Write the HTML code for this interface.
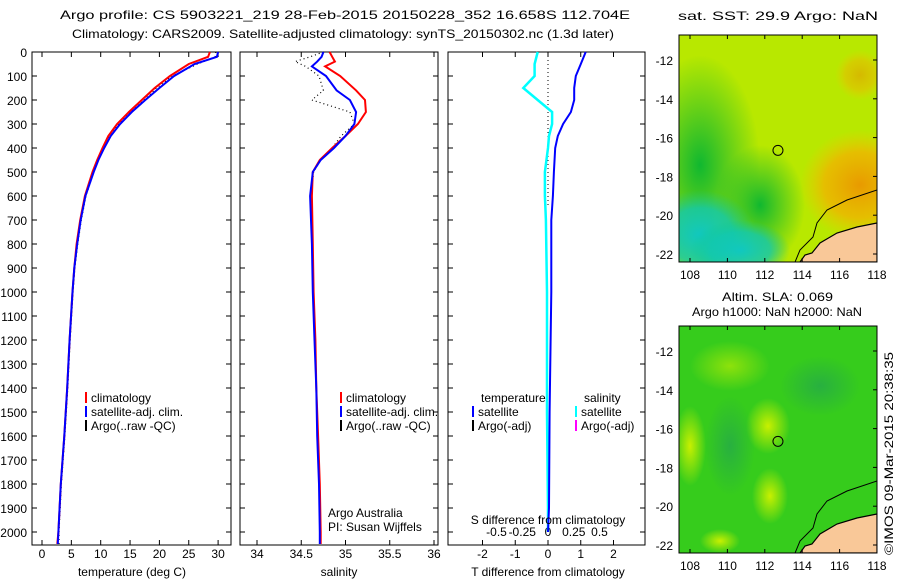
<!DOCTYPE html>
<html><head><meta charset="utf-8">
<style>
body{margin:0;background:#fff;}
svg{display:block;font-family:"Liberation Sans",sans-serif;}
text{font-size:12px;fill:#000;}
</style></head>
<body>
<svg id="fig" width="900" height="580" viewBox="0 0 900 580" xmlns="http://www.w3.org/2000/svg">
<defs>
<radialGradient id="gOr" cx="0.5" cy="0.5" r="0.5"><stop offset="0" stop-color="#e89a00"/><stop offset="0.6" stop-color="#f0b400" stop-opacity="0.8"/><stop offset="1" stop-color="#f0c800" stop-opacity="0"/></radialGradient>
<radialGradient id="gCy" cx="0.5" cy="0.5" r="0.5"><stop offset="0" stop-color="#10c8c0"/><stop offset="0.6" stop-color="#10c8b0" stop-opacity="0.8"/><stop offset="1" stop-color="#10c890" stop-opacity="0"/></radialGradient>
<radialGradient id="gGr" cx="0.5" cy="0.5" r="0.5"><stop offset="0" stop-color="#10b830"/><stop offset="1" stop-color="#10b830" stop-opacity="0"/></radialGradient>
<radialGradient id="gYe" cx="0.5" cy="0.5" r="0.5"><stop offset="0" stop-color="#c8f000"/><stop offset="1" stop-color="#c8f000" stop-opacity="0"/></radialGradient>
<radialGradient id="gDk" cx="0.5" cy="0.5" r="0.5"><stop offset="0" stop-color="#28b040"/><stop offset="1" stop-color="#28b040" stop-opacity="0"/></radialGradient>
<clipPath id="clipTop"><rect x="679" y="35" width="198" height="227"/></clipPath>
<clipPath id="clipBot"><rect x="679" y="326" width="198" height="227"/></clipPath>
</defs>
<text x="60" y="19" font-size="14" textLength="570" lengthAdjust="spacingAndGlyphs">Argo profile: CS 5903221_219 28-Feb-2015 20150228_352 16.658S 112.704E</text>
<text x="72" y="38" font-size="14" textLength="542" lengthAdjust="spacingAndGlyphs">Climatology: CARS2009. Satellite-adjusted climatology: synTS_20150302.nc (1.3d later)</text>
<g id="p1"></g>
<g id="p2"></g>
<g id="p3"></g>
<g id="m1"></g>
<g id="m2"></g>
<text x="678" y="20" textLength="200" lengthAdjust="spacingAndGlyphs">sat. SST: 29.9 Argo: NaN</text>
<text x="722" y="301" textLength="111" lengthAdjust="spacingAndGlyphs">Altim. SLA: 0.069</text>
<text x="692" y="316" textLength="170" lengthAdjust="spacingAndGlyphs">Argo h1000: NaN h2000: NaN</text>
<text transform="translate(893,555) rotate(-90)" textLength="203" lengthAdjust="spacingAndGlyphs">©IMOS 09-Mar-2015 20:38:35</text>
</svg>
<script>
// ---- data ----
const depths = [0,20,50,100,150,200,250,300,350,400,450,500,600,700,800,900,1000,1200,1400,1600,1800,2000,2050];
const tempClim = [28.6,28.3,25,21.8,19.2,17,14.8,12.8,11.3,10.3,9.4,8.6,7.3,6.5,5.9,5.5,5.2,4.7,4.3,3.8,3.2,2.8,2.6];
const tempSat  = [30,29.8,26,22.5,20,17.6,15.3,13.3,11.7,10.6,9.6,8.8,7.4,6.6,6.0,5.5,5.2,4.7,4.3,3.8,3.2,2.8,2.7];
const tempArgo = [29.6,29.5,26.5,22.2,19.5,17.4,15.0,13.0,11.5,10.5,9.6,8.8,7.5,6.7,6.1,5.6,5.3,4.8,4.4,3.9,3.3,2.9,2.9];
const salDepths = [0,20,40,60,100,160,200,250,300,350,400,450,500,600,800,1000,1200,1400,1600,1800,2000,2050];
const salClim = [34.82,34.85,34.88,34.77,34.94,35.12,35.22,35.23,35.14,35.0,34.85,34.71,34.63,34.62,34.63,34.64,34.66,34.67,34.69,34.71,34.72,34.72];
const salSat  = [34.75,34.73,34.68,34.62,34.78,34.9,35.05,35.12,35.1,35.0,34.87,34.72,34.63,34.6,34.62,34.63,34.65,34.67,34.68,34.7,34.71,34.71];
const salArgo = [34.75,34.6,34.43,34.55,34.7,34.75,34.62,35.05,35.1,34.95,34.85,34.72,34.64,34.61,34.63,34.64,34.66,34.67,34.69,34.71,34.72,34.72];
const dDepths = [0,50,100,150,200,250,300,350,400,500,600,700,1000,1500,1900,2000];
const tDiff = [1.15,1.0,0.85,0.8,0.8,0.7,0.46,0.3,0.22,0.18,0.15,0.1,0.1,0.05,0.03,0.0];
const sDiff = [-0.1,-0.13,-0.13,-0.24,-0.1,0.04,0.04,0.01,0.0,-0.03,-0.03,-0.02,-0.01,-0.01,0.0,0.0];
const depthTicks = [0,100,200,300,400,500,600,700,800,900,1000,1100,1200,1300,1400,1500,1600,1700,1800,1900,2000];
const tTicks = [0,5,10,15,20,25,30];
const sTicks = [34,34.5,35,35.5,36];
const sTickLabels = ["34","34.5","35","35.5","36"];
const dTTicks = [-2,-1,0,1,2];
const dSTicks = [-0.5,-0.25,0,0.25,0.5];
const latTicks = [-12,-14,-16,-18,-20,-22];
const lonTicks = [108,110,112,114,116,118];
const argoLon = 112.704, argoLat = -16.658;

// ---- helpers ----
const NS="http://www.w3.org/2000/svg";
function mk(tag, attrs, parent){const e=document.createElementNS(NS,tag);for(const k in attrs)e.setAttribute(k,attrs[k]);parent.appendChild(e);return e;}
const TOP=52, BOT=545;
const yD = d => TOP + d*0.24;
const xT = t => 42 + t*5.87;
const xS = s => 257 + (s-34)*88.5;
const xDT = v => 548 + v*32.75;
const xDS = v => 548 + v*103;

function frame(g,x0,x1){
  const r=mk('rect',{x:x0,y:TOP,width:x1-x0,height:BOT-TOP,fill:'none',stroke:'#000','stroke-width':1},g);
  
  
  depthTicks.forEach(d=>{
    mk('line',{x1:x0,x2:x0+5,y1:yD(d),y2:yD(d),stroke:'#000'},g);
    mk('line',{x1:x1,x2:x1-5,y1:yD(d),y2:yD(d),stroke:'#000'},g);
  });
}
function xticks(g,vals,labels,fx,ly){
  vals.forEach((v,i)=>{
    const x=fx(v);
    mk('line',{x1:x,x2:x,y1:TOP,y2:TOP+5,stroke:'#000'},g);
    mk('line',{x1:x,x2:x,y1:BOT,y2:BOT-5,stroke:'#000'},g);
    const t=mk('text',{x:x,y:ly,'text-anchor':'middle'},g);
    t.textContent=labels[i];
    
    
  });
}
function line(g,xs,ys,fx,color,w,dash,name){
  const pts=xs.map((v,i)=>fx(v).toFixed(1)+','+yD(ys[i]).toFixed(1)).join(' ');
  const p=mk('polyline',{points:pts,fill:'none',stroke:color,'stroke-width':w},g);
  if(dash)p.setAttribute('stroke-dasharray',dash);
  
  
}
function txt(g,x,y,s,name,anchor){
  const t=mk('text',{x:x,y:y,'text-anchor':anchor||'start'},g);
  t.textContent=s;
  
  
  return t;
}
function legend(g,x,y,color,label,name){
  mk('rect',{x:x,y:y-10,width:2,height:11,fill:color},g);
  txt(g,x+6,y,label,name);
}

// ---- panel 1 ----
const p1=document.getElementById('p1');
frame(p1,32,231);
depthTicks.forEach(d=>{txt(p1,27,yD(d)+5,String(d),'y-tick-label','end');});
xticks(p1,tTicks,tTicks.map(String),xT,558);
line(p1,tempArgo,depths,xT,'#000',1.2,'1,3','argo-temperature-line');
line(p1,tempClim,depths,xT,'#f00',2,null,'climatology-temperature-line');
line(p1,tempSat,depths,xT,'#00f',2,null,'satellite-temperature-line');
txt(p1,132,576,'temperature (deg C)','x-axis-title','middle');
legend(p1,85,402,'#f00','climatology','legend-climatology');
legend(p1,85,416,'#00f','satellite-adj. clim.','legend-satellite');
legend(p1,85,430,'#000','Argo(..raw -QC)','legend-argo');

// ---- panel 2 ----
const p2=document.getElementById('p2');
frame(p2,240,438);
xticks(p2,sTicks,sTickLabels,xS,558);
line(p2,salArgo,salDepths,xS,'#000',1.2,'1,3','argo-salinity-line');
line(p2,salClim,salDepths,xS,'#f00',2,null,'climatology-salinity-line');
line(p2,salSat,salDepths,xS,'#00f',2,null,'satellite-salinity-line');
txt(p2,339,576,'salinity','x-axis-title','middle');
legend(p2,340,402,'#f00','climatology','legend-climatology');
legend(p2,340,416,'#00f','satellite-adj. clim.','legend-satellite');
legend(p2,340,430,'#000','Argo(..raw -QC)','legend-argo');
txt(p2,328,517,'Argo Australia','credit-line-1');
txt(p2,328,531,'PI: Susan Wijffels','credit-line-2');

// ---- panel 3 ----
const p3=document.getElementById('p3');
frame(p3,448,645);
xticks(p3,dTTicks,dTTicks.map(String),xDT,558);
dSTicks.forEach(v=>{txt(p3,xDS(v),536,String(v),'s-tick-label','middle');});
mk('line',{x1:548,x2:548,y1:TOP,y2:yD(650),stroke:'#000','stroke-dasharray':'1,3'},p3);
line(p3,sDiff,dDepths,xDS,'#0ff',2.5,null,'salinity-difference-line');
line(p3,tDiff,dDepths,xDT,'#00f',2,null,'temperature-difference-line');
txt(p3,548,524,'S difference from climatology','s-axis-title','middle');
txt(p3,548,576,'T difference from climatology','x-axis-title','middle');
txt(p3,481,402,'temperature','legend-temperature-header');
txt(p3,584,402,'salinity','legend-salinity-header');
legend(p3,472,416,'#00f','satellite','legend-t-satellite');
legend(p3,472,430,'#000','Argo(-adj)','legend-t-argo');
legend(p3,575,416,'#0ff','satellite','legend-s-satellite');
legend(p3,575,430,'#f0f','Argo(-adj)','legend-s-argo');

// ---- maps ----
function map(g,y0,clip,kind){
  const X0=679,X1=877,H=227;
  const lx=lon=>690+(lon-108)*18.7;
  const ly=lat=>y0+25+(-12-lat)*19.4;
  const c=mk('g',{'clip-path':'url(#'+clip+')'},g);
  if(kind==='sst'){
    mk('rect',{x:X0,y:y0,width:198,height:H,fill:'#b8e800'},c);
    mk('ellipse',{cx:700,cy:y0+130,rx:60,ry:110,fill:'url(#gGr)'},c);
    mk('ellipse',{cx:760,cy:y0+170,rx:45,ry:60,fill:'url(#gGr)'},c);
    mk('ellipse',{cx:700,cy:y0+200,rx:55,ry:45,fill:'url(#gCy)'},c);
    mk('ellipse',{cx:740,cy:y0+215,rx:50,ry:30,fill:'url(#gCy)'},c);
    mk('ellipse',{cx:860,cy:y0+150,rx:60,ry:55,fill:'url(#gOr)'},c);
    mk('ellipse',{cx:860,cy:y0+40,rx:25,ry:25,fill:'url(#gOr)',opacity:0.6},c);
  } else {
    mk('rect',{x:X0,y:y0,width:198,height:H,fill:'#36cc1c'},c);
    mk('ellipse',{cx:690,cy:y0+120,rx:16,ry:40,fill:'url(#gYe)'},c);
    mk('ellipse',{cx:768,cy:y0+100,rx:22,ry:28,fill:'url(#gYe)'},c);
    mk('ellipse',{cx:770,cy:y0+170,rx:18,ry:28,fill:'url(#gYe)'},c);
    mk('ellipse',{cx:730,cy:y0+40,rx:40,ry:25,fill:'url(#gYe)',opacity:0.6},c);
    mk('ellipse',{cx:730,cy:y0+120,rx:25,ry:50,fill:'url(#gDk)'},c);
    mk('ellipse',{cx:820,cy:y0+60,rx:40,ry:30,fill:'url(#gDk)'},c);
    mk('ellipse',{cx:720,cy:y0+215,rx:20,ry:12,fill:'url(#gYe)'},c);
  }
  const o=y0-35;
  const land=mk('polygon',{points:`877,${223+o} 857,${227+o} 837,${233+o} 820,${243+o} 812,${253+o} 805,${255+o} 800,${262+o} 877,${262+o}`,fill:'#f9c898',stroke:'#000','stroke-width':1.2},c);
  
  
  mk('polyline',{points:`877,${190+o} 847,${200+o} 827,${210+o} 817,${223+o} 813,${237+o} 800,${250+o} 793,${267+o}`,fill:'none',stroke:'#000','stroke-width':1},c);
  const fr=mk('rect',{x:X0,y:y0,width:198,height:H,fill:'none',stroke:'#000'},g);
  
  
  latTicks.forEach(l=>{const y=ly(l);mk('line',{x1:X1,x2:X1-4,y1:y,y2:y,stroke:'#000'},g);txt(g,673,y+5,String(l),'lat-tick-label','end');});
  lonTicks.forEach(l=>{const x=lx(l);mk('line',{x1:x,x2:x,y1:y0+H,y2:y0+H-4,stroke:'#000'},g);mk('line',{x1:x,x2:x,y1:y0,y2:y0+4,stroke:'#000'},g);txt(g,x,y0+H+17,String(l),'lon-tick-label','middle');});
  const m=mk('circle',{cx:lx(argoLon),cy:ly(argoLat),r:5,fill:'none',stroke:'#000','stroke-width':1},g);
  
  
}
map(document.getElementById('m1'),35,'clipTop','sst');
map(document.getElementById('m2'),326,'clipBot','sla');
</script>
</body></html>
